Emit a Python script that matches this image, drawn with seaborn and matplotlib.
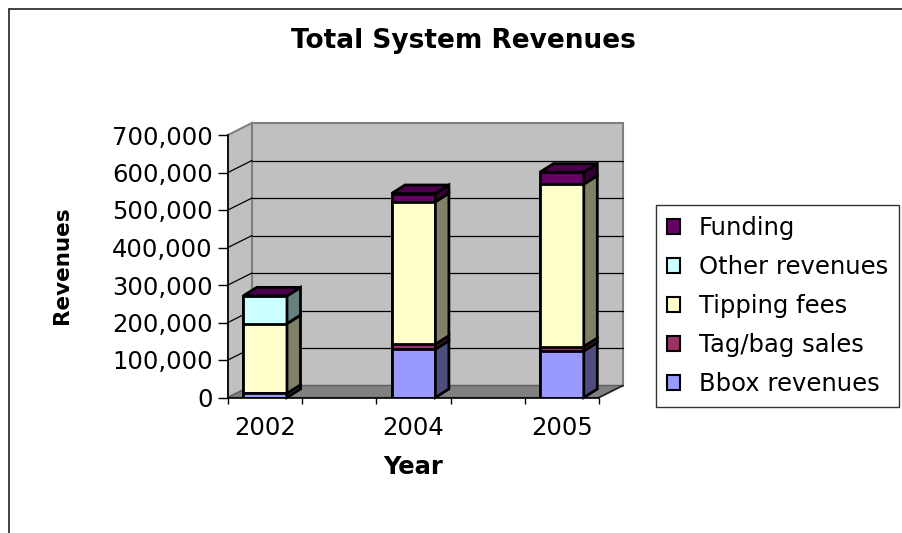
import matplotlib
matplotlib.use("Agg")
import matplotlib.pyplot as plt
from matplotlib.patches import Polygon, Rectangle, Patch
from matplotlib.lines import Line2D
import seaborn as sns
import pandas as pd
import numpy as np

# ---- data ----
years = ["2002", "2004", "2005"]
bbox_revenues = [11000, 129000, 124000]
tag_bag_sales = [0, 13000, 12000]
tipping_fees = [186000, 380000, 433000]
other_revenues = [74000, 0, 0]
funding = [0, 22000, 32000]

series_names = ["Bbox revenues", "Tag/bag sales", "Tipping fees", "Other revenues", "Funding"]
series_values = [bbox_revenues, tag_bag_sales, tipping_fees, other_revenues, funding]
front_colors = ["#9999FF", "#993366", "#FFFFCC", "#CCFFFF", "#660066"]
side_colors = ["#4D4D80", "#4D1A33", "#808066", "#668080", "#330033"]
top_color = "#4C004C"

y_ticks = [0, 100000, 200000, 300000, 400000, 500000, 600000, 700000]
slot_order = ["2002", "_gap1", "2004", "_gap2", "2005"]

sns.set_style("white")
plt.rcParams["font.family"] = ["DejaVu Sans"]
plt.rcParams["text.color"] = "black"
plt.rcParams["axes.labelcolor"] = "black"
plt.rcParams["xtick.color"] = "black"
plt.rcParams["ytick.color"] = "black"

W, H, DPI = 902, 533, 100
fig = plt.figure(figsize=(W / DPI, H / DPI), dpi=DPI)
ax = fig.add_axes([228 / W, 1 - 397.5 / H, 371 / W, 262.5 / H])
ax.patch.set_visible(False)

xmin, xmax = -0.5, len(slot_order) - 0.5
ymin, ymax = 0, 700000
px_x = 371 / (xmax - xmin)       # px per x unit
px_y = 262.5 / (ymax - ymin)     # px per y unit
odx, ody = 24 / px_x, 12 / px_y  # wall depth
bdx, bdy = 13.5 / px_x, 8.5 / px_y  # bar depth

# ---- walls and floor ----
wall_gray = "#C0C0C0"
edge_gray = "#808080"
ax.add_patch(Rectangle((xmin + odx, ymin + ody), xmax - xmin, ymax - ymin,
                       facecolor=wall_gray, edgecolor=edge_gray, lw=1.5,
                       clip_on=False, zorder=0.2))
ax.add_patch(Polygon([(xmin, ymin), (xmin, ymax), (xmin + odx, ymax + ody), (xmin + odx, ymin + ody)],
                     closed=True, facecolor=wall_gray, edgecolor=edge_gray, lw=1.5,
                     clip_on=False, zorder=0.25))
ax.add_patch(Polygon([(xmin, ymin), (xmax, ymin), (xmax + odx, ymin + ody), (xmin + odx, ymin + ody)],
                     closed=True, facecolor="#808080", edgecolor="#606060", lw=1.0,
                     clip_on=False, zorder=0.3))
for v in y_ticks[1:-1]:
    ax.plot([xmin + odx, xmax + odx], [v + ody, v + ody], color="black", lw=0.9,
            clip_on=False, zorder=0.4)
    ax.plot([xmin, xmin + odx], [v, v + ody], color="black", lw=0.9,
            clip_on=False, zorder=0.4)
ax.plot([xmax, xmax + odx], [ymin, ymin + ody], color="#202020", lw=1.2, clip_on=False, zorder=0.4)

# ---- stacked bars (overlay of cumulative sums) ----
rows = []
cum = np.zeros(len(years))
cums = []
for name, vals in zip(series_names, series_values):
    cum = cum + np.array(vals, dtype=float)
    cums.append(cum.copy())
    for y, c in zip(years, cum):
        rows.append({"Year": y, "Series": name, "cum": c})
df = pd.DataFrame(rows)

bar_geom = {}
for i in range(len(series_names) - 1, -1, -1):
    sub = df[df["Series"] == series_names[i]]
    n0 = len(ax.patches)
    sns.barplot(data=sub, x="Year", y="cum", order=slot_order, color=front_colors[i],
                saturation=1, width=0.59, edgecolor="black", linewidth=2,
                errorbar=None, ax=ax, zorder=2)
    for p in ax.patches[n0:]:
        xc = p.get_x() + p.get_width() / 2
        slot = int(round(xc))
        bar_geom[slot_order[slot]] = (p.get_x(), p.get_x() + p.get_width())

# side faces per segment and top faces
for j, yr in enumerate(years):
    x0, x1 = bar_geom[yr]
    bottom = 0.0
    for i in range(len(series_names)):
        top = cums[i][j]
        if top > bottom:
            ax.add_patch(Polygon([(x1, bottom), (x1 + bdx, bottom + bdy), (x1 + bdx, top + bdy), (x1, top)],
                                 closed=True, facecolor=side_colors[i], edgecolor="black", lw=2,
                                 clip_on=False, zorder=2.1))
        bottom = top
    ax.add_patch(Polygon([(x0, bottom), (x0 + bdx, bottom + bdy), (x1 + bdx, bottom + bdy), (x1, bottom)],
                         closed=True, facecolor=top_color, edgecolor="black", lw=2,
                         clip_on=False, zorder=2.2))

# ---- axes ----
ax.set_xlim(xmin, xmax)
ax.set_ylim(ymin, ymax)
for s in ["top", "right"]:
    ax.spines[s].set_visible(False)
ax.spines["left"].set_color("black")
ax.spines["bottom"].set_color("black")
ax.spines["left"].set_linewidth(1.2)
ax.spines["bottom"].set_linewidth(1.2)
ax.spines["left"].set_zorder(3)

ax.set_yticks(y_ticks, labels=[f"{v:,}" for v in y_ticks])
ax.set_xticks(np.arange(xmin, xmax + 0.01, 1.0), labels=[""] * len(slot_order + [""]))
ax.set_xticks([slot_order.index(y) for y in years], labels=years, minor=True)
ax.tick_params(axis="y", which="major", length=7, width=1, color="black", pad=4,
               labelsize=17.5, left=True, direction="out")
ax.tick_params(axis="x", which="major", length=4, width=1, color="black", bottom=True, direction="out")
ax.tick_params(axis="x", which="minor", length=0, pad=13, labelsize=17.5)
ax.set_xlabel("Year", fontsize=17.5, fontweight="bold", labelpad=11)
ax.set_ylabel("")
fig.text(62 / W, 1 - 265 / H, "Revenues", rotation=90, fontsize=15.5, fontweight="bold",
         ha="center", va="center")

fig.text(463 / W, 1 - 41 / H, "Total System Revenues", fontsize=19, fontweight="bold",
         ha="center", va="center")

# ---- legend ----
handles = [Patch(facecolor=front_colors[i], edgecolor="black", lw=1.5, label=series_names[i])
           for i in range(len(series_names) - 1, -1, -1)]
leg = fig.legend(handles=handles, loc="upper left", bbox_to_anchor=(656 / W, 1 - 205 / H),
                 frameon=True, fancybox=False, edgecolor="black", fontsize=17.5,
                 handlelength=0.55, handleheight=0.55, handletextpad=0.75,
                 labelspacing=0.62, borderpad=0.45, borderaxespad=0)
leg.get_frame().set_linewidth(1.0)

# ---- chart frame ----
fig.add_artist(Line2D([9 / W, 1], [1 - 9 / H, 1 - 9 / H], transform=fig.transFigure, color="#333333", lw=1.3))
fig.add_artist(Line2D([9 / W, 9 / W], [1 - 9 / H, 0], transform=fig.transFigure, color="#333333", lw=1.3))

fig.savefig("out.png", dpi=DPI)
